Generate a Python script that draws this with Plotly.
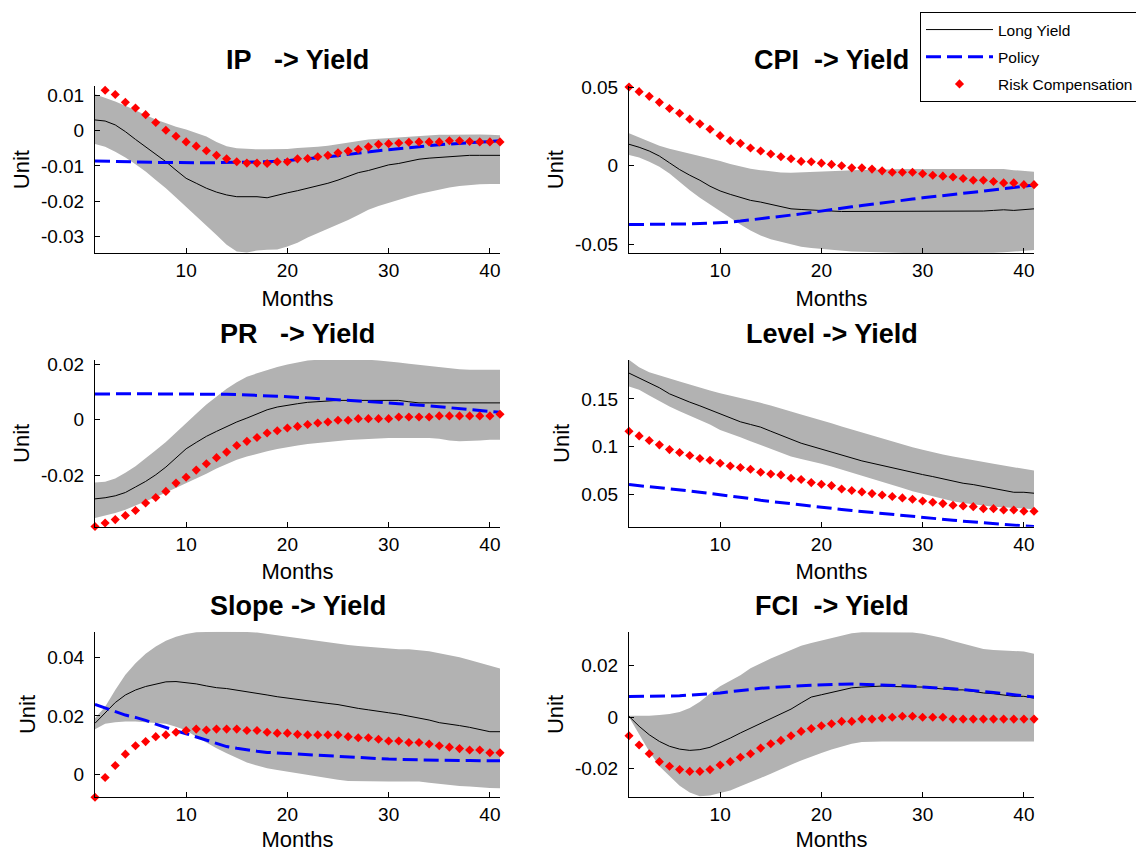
import plotly.graph_objects as go

months = list(range(1, 42))
x_tick_vals = [10, 20, 30, 40]
series_names = ["Long Yield", "Policy", "Risk Compensation"]
titles = ["IP\u00a0\u00a0\u00a0-> Yield", "CPI\u00a0\u00a0-> Yield", "PR\u00a0\u00a0\u00a0-> Yield",
          "Level -> Yield", "Slope -> Yield", "FCI\u00a0\u00a0-> Yield"]

# ---------------- IP -> Yield ----------------
ip_upper = [0.0103, 0.0093, 0.0082, 0.0070, 0.0058, 0.0044, 0.0031, 0.0020, 0.0011, 0.0003,
            -0.0006, -0.0017, -0.0032, -0.0044, -0.0050, -0.0052, -0.0053, -0.0053, -0.0053, -0.0052,
            -0.0049, -0.0048, -0.0046, -0.0043, -0.0038, -0.0034, -0.0029, -0.0025, -0.0023, -0.0021,
            -0.0019, -0.0016, -0.0014, -0.0013, -0.0012, -0.0012, -0.0011, -0.0011, -0.0011, -0.0012, -0.0013]
ip_lower = [-0.0038, -0.0046, -0.0060, -0.0076, -0.0095, -0.0116, -0.0140, -0.0163, -0.0189, -0.0215,
            -0.0241, -0.0267, -0.0295, -0.0323, -0.0342, -0.0345, -0.0339, -0.0337, -0.0336, -0.0328,
            -0.0317, -0.0302, -0.0290, -0.0278, -0.0265, -0.0253, -0.0239, -0.0224, -0.0213, -0.0204,
            -0.0194, -0.0187, -0.0179, -0.0173, -0.0166, -0.0161, -0.0157, -0.0154, -0.0152, -0.0151, -0.0151]
ip_long = [0.0030, 0.0027, 0.0016, -0.0003, -0.0025, -0.0046, -0.0066, -0.0088, -0.0112, -0.0135,
           -0.0149, -0.0163, -0.0174, -0.0182, -0.0187, -0.0187, -0.0187, -0.0190, -0.0182, -0.0176,
           -0.0170, -0.0163, -0.0157, -0.0149, -0.0140, -0.0130, -0.0119, -0.0113, -0.0105, -0.0097,
           -0.0093, -0.0087, -0.0081, -0.0078, -0.0076, -0.0072, -0.0070, -0.0070, -0.0070, -0.0070, -0.0070]
ip_policy = [-0.0086, -0.0087, -0.0088, -0.0089, -0.0089, -0.0090, -0.0090, -0.0090, -0.0091, -0.0091,
             -0.0091, -0.0091, -0.0091, -0.0091, -0.0091, -0.0090, -0.0089, -0.0088, -0.0087, -0.0085,
             -0.0082, -0.0080, -0.0077, -0.0074, -0.0071, -0.0067, -0.0064, -0.0060, -0.0057, -0.0054,
             -0.0051, -0.0048, -0.0045, -0.0043, -0.0040, -0.0038, -0.0036, -0.0034, -0.0032, -0.0030, -0.0029]
ip_risk = [None, 0.0114, 0.0102, 0.0080, 0.0064, 0.0045, 0.0023, 0.0001, -0.0016, -0.0032,
           -0.0044, -0.0057, -0.0070, -0.0080, -0.0088, -0.0092, -0.0092, -0.0093, -0.0088, -0.0088,
           -0.0080, -0.0079, -0.0074, -0.0070, -0.0063, -0.0058, -0.0053, -0.0046, -0.0039, -0.0037,
           -0.0035, -0.0033, -0.0032, -0.0032, -0.0032, -0.0029, -0.0029, -0.0031, -0.0032, -0.0032, -0.0032]
ip_yticks = [-0.03, -0.02, -0.01, 0, 0.01]
ip_yticktext = ["-0.03", "-0.02", "-0.01", "0", "0.01"]

# ---------------- CPI -> Yield ----------------
cpi_upper = [0.0207, 0.0182, 0.0154, 0.0128, 0.0109, 0.0094, 0.0079, 0.0064, 0.0047, 0.0030,
             0.0011, -0.0006, -0.0019, -0.0028, -0.0036, -0.0043, -0.0045, -0.0043, -0.0041, -0.0036,
             -0.0034, -0.0032, -0.0028, -0.0026, -0.0024, -0.0021, -0.0021, -0.0021, -0.0021, -0.0021,
             -0.0021, -0.0021, -0.0021, -0.0021, -0.0021, -0.0021, -0.0021, -0.0021, -0.0028, -0.0034, -0.0038]
cpi_lower = [0.0068, 0.0053, 0.0026, -0.0006, -0.0049, -0.0103, -0.0156, -0.0203, -0.0246, -0.0288,
             -0.0331, -0.0374, -0.0412, -0.0444, -0.0468, -0.0485, -0.0502, -0.0515, -0.0524, -0.0530,
             -0.0536, -0.0541, -0.0545, -0.0547, -0.0549, -0.0551, -0.0556, -0.0556, -0.0556, -0.0556,
             -0.0556, -0.0556, -0.0556, -0.0556, -0.0556, -0.0556, -0.0553, -0.0551, -0.0545, -0.0541, -0.0536]
cpi_long = [0.0137, 0.0118, 0.0094, 0.0062, 0.0019, -0.0024, -0.0060, -0.0092, -0.0130, -0.0160,
            -0.0182, -0.0203, -0.0220, -0.0231, -0.0246, -0.0263, -0.0274, -0.0278, -0.0280, -0.0284,
            -0.0288, -0.0291, -0.0291, -0.0291, -0.0291, -0.0291, -0.0291, -0.0291, -0.0291, -0.0291,
            -0.0291, -0.0291, -0.0291, -0.0291, -0.0291, -0.0288, -0.0284, -0.0280, -0.0284, -0.0280, -0.0274]
cpi_policy = [-0.0374, -0.0374, -0.0374, -0.0374, -0.0373, -0.0372, -0.0370, -0.0368, -0.0366, -0.0363,
              -0.0358, -0.0352, -0.0345, -0.0338, -0.0330, -0.0322, -0.0314, -0.0306, -0.0297, -0.0287,
              -0.0278, -0.0270, -0.0261, -0.0253, -0.0244, -0.0236, -0.0228, -0.0220, -0.0212, -0.0204,
              -0.0196, -0.0189, -0.0182, -0.0175, -0.0168, -0.0161, -0.0154, -0.0146, -0.0138, -0.0130, -0.0122]
cpi_risk = [0.0502, 0.0472, 0.0442, 0.0404, 0.0365, 0.0335, 0.0297, 0.0267, 0.0233, 0.0192,
            0.0160, 0.0143, 0.0113, 0.0094, 0.0075, 0.0058, 0.0045, 0.0028, 0.0026, 0.0017,
            0.0009, 0.0000, -0.0013, -0.0013, -0.0021, -0.0032, -0.0041, -0.0041, -0.0041, -0.0051,
            -0.0060, -0.0066, -0.0071, -0.0081, -0.0092, -0.0092, -0.0100, -0.0109, -0.0109, -0.0120, -0.0120]
cpi_yticks = [-0.05, 0, 0.05]
cpi_yticktext = ["-0.05", "0", "0.05"]

# ---------------- PR -> Yield ----------------
pr_upper = [-0.0227, -0.0224, -0.0212, -0.0192, -0.0168, -0.0140, -0.0110, -0.0080, -0.0045, -0.0012,
            0.0022, 0.0055, 0.0085, 0.0112, 0.0136, 0.0155, 0.0168, 0.0180, 0.0191, 0.0200,
            0.0208, 0.0214, 0.0217, 0.0217, 0.0217, 0.0217, 0.0217, 0.0217, 0.0214, 0.0211,
            0.0207, 0.0202, 0.0198, 0.0193, 0.0189, 0.0186, 0.0183, 0.0181, 0.0181, 0.0181, 0.0181]
pr_lower = [-0.0355, -0.0347, -0.0337, -0.0325, -0.0311, -0.0295, -0.0280, -0.0263, -0.0247, -0.0231,
            -0.0214, -0.0195, -0.0176, -0.0159, -0.0145, -0.0133, -0.0123, -0.0114, -0.0106, -0.0099,
            -0.0093, -0.0088, -0.0084, -0.0081, -0.0077, -0.0073, -0.0071, -0.0069, -0.0066, -0.0066,
            -0.0066, -0.0066, -0.0066, -0.0066, -0.0069, -0.0075, -0.0078, -0.0077, -0.0075, -0.0072, -0.0072]
pr_long = [-0.0286, -0.0282, -0.0275, -0.0263, -0.0243, -0.0223, -0.0199, -0.0171, -0.0138, -0.0105,
           -0.0082, -0.0060, -0.0042, -0.0024, -0.0008, 0.0006, 0.0022, 0.0036, 0.0046, 0.0053,
           0.0058, 0.0063, 0.0066, 0.0069, 0.0070, 0.0070, 0.0070, 0.0070, 0.0070, 0.0070,
           0.0070, 0.0065, 0.0061, 0.0061, 0.0061, 0.0061, 0.0061, 0.0061, 0.0061, 0.0061, 0.0061]
pr_policy = [0.0093, 0.0094, 0.0094, 0.0094, 0.0094, 0.0094, 0.0094, 0.0094, 0.0094, 0.0094,
             0.0094, 0.0094, 0.0093, 0.0092, 0.0091, 0.0090, 0.0089, 0.0087, 0.0085, 0.0083,
             0.0081, 0.0079, 0.0077, 0.0075, 0.0073, 0.0070, 0.0068, 0.0066, 0.0063, 0.0061,
             0.0058, 0.0056, 0.0053, 0.0050, 0.0047, 0.0044, 0.0041, 0.0037, 0.0034, 0.0030, 0.0027]
pr_risk = [-0.0386, -0.0373, -0.0361, -0.0346, -0.0328, -0.0301, -0.0281, -0.0259, -0.0229, -0.0208,
           -0.0182, -0.0159, -0.0137, -0.0117, -0.0093, -0.0078, -0.0064, -0.0048, -0.0040, -0.0030,
           -0.0024, -0.0017, -0.0012, -0.0008, -0.0002, -0.0002, 0.0004, 0.0004, 0.0004, 0.0004,
           0.0010, 0.0010, 0.0010, 0.0010, 0.0014, 0.0014, 0.0014, 0.0014, 0.0014, 0.0014, 0.0020]
pr_yticks = [-0.02, 0, 0.02]
pr_yticktext = ["-0.02", "0", "0.02"]

# ---------------- Level -> Yield ----------------
lvl_upper = [0.1912, 0.1835, 0.1782, 0.1747, 0.1712, 0.1684, 0.1653, 0.1618, 0.1589, 0.1561,
             0.1537, 0.1512, 0.1491, 0.1460, 0.1432, 0.1396, 0.1368, 0.1337, 0.1309, 0.1281,
             0.1246, 0.1211, 0.1179, 0.1147, 0.1116, 0.1084, 0.1053, 0.1021, 0.0993, 0.0965,
             0.0937, 0.0916, 0.0895, 0.0874, 0.0853, 0.0835, 0.0818, 0.0800, 0.0782, 0.0765, 0.0747]
lvl_lower = [0.1632, 0.1596, 0.1537, 0.1477, 0.1421, 0.1372, 0.1326, 0.1281, 0.1232, 0.1175,
             0.1140, 0.1098, 0.1056, 0.1014, 0.0972, 0.0930, 0.0895, 0.0870, 0.0846, 0.0818,
             0.0789, 0.0758, 0.0726, 0.0695, 0.0663, 0.0632, 0.0596, 0.0565, 0.0530, 0.0502,
             0.0474, 0.0449, 0.0425, 0.0407, 0.0393, 0.0379, 0.0368, 0.0361, 0.0354, 0.0347, 0.0340]
lvl_long = [0.1772, 0.1723, 0.1667, 0.1618, 0.1554, 0.1509, 0.1467, 0.1428, 0.1386, 0.1344,
            0.1302, 0.1260, 0.1232, 0.1204, 0.1161, 0.1116, 0.1077, 0.1035, 0.1004, 0.0975,
            0.0940, 0.0905, 0.0874, 0.0849, 0.0825, 0.0800, 0.0772, 0.0747, 0.0726, 0.0705,
            0.0684, 0.0660, 0.0635, 0.0614, 0.0600, 0.0579, 0.0554, 0.0537, 0.0519, 0.0519, 0.0509]
lvl_policy = [0.0600, 0.0590, 0.0580, 0.0568, 0.0556, 0.0545, 0.0533, 0.0520, 0.0508, 0.0495,
              0.0483, 0.0470, 0.0452, 0.0435, 0.0422, 0.0408, 0.0396, 0.0385, 0.0372, 0.0360,
              0.0349, 0.0338, 0.0327, 0.0316, 0.0306, 0.0296, 0.0285, 0.0275, 0.0265, 0.0255,
              0.0245, 0.0235, 0.0225, 0.0215, 0.0206, 0.0197, 0.0188, 0.0180, 0.0172, 0.0165, 0.0158]
lvl_risk = [0.1161, 0.1112, 0.1063, 0.1018, 0.0968, 0.0937, 0.0905, 0.0874, 0.0856, 0.0825,
            0.0796, 0.0779, 0.0761, 0.0730, 0.0712, 0.0702, 0.0667, 0.0653, 0.0621, 0.0604,
            0.0589, 0.0554, 0.0537, 0.0523, 0.0505, 0.0491, 0.0474, 0.0460, 0.0446, 0.0428,
            0.0414, 0.0400, 0.0382, 0.0375, 0.0368, 0.0347, 0.0347, 0.0333, 0.0333, 0.0319, 0.0319]
lvl_yticks = [0.05, 0.1, 0.15]
lvl_yticktext = ["0.05", "0.1", "0.15"]

# ---------------- Slope -> Yield ----------------
slp_upper = [0.0192, 0.0232, 0.0289, 0.0341, 0.0381, 0.0413, 0.0438, 0.0458, 0.0472, 0.0481,
             0.0487, 0.0489, 0.0489, 0.0489, 0.0489, 0.0488, 0.0486, 0.0481, 0.0478, 0.0472,
             0.0466, 0.0461, 0.0456, 0.0451, 0.0447, 0.0443, 0.0440, 0.0437, 0.0433, 0.0430,
             0.0429, 0.0429, 0.0426, 0.0422, 0.0415, 0.0409, 0.0401, 0.0392, 0.0383, 0.0372, 0.0363]
slp_lower = [0.0154, 0.0173, 0.0178, 0.0181, 0.0181, 0.0179, 0.0177, 0.0173, 0.0163, 0.0150,
             0.0129, 0.0109, 0.0089, 0.0072, 0.0055, 0.0040, 0.0030, 0.0021, 0.0015, 0.0009,
             0.0003, -0.0002, -0.0008, -0.0014, -0.0019, -0.0023, -0.0024, -0.0025, -0.0025, -0.0025,
             -0.0025, -0.0025, -0.0025, -0.0029, -0.0033, -0.0038, -0.0040, -0.0042, -0.0045, -0.0047, -0.0048]
slp_long = [0.0175, 0.0211, 0.0246, 0.0272, 0.0289, 0.0301, 0.0310, 0.0317, 0.0318, 0.0315,
            0.0310, 0.0303, 0.0297, 0.0294, 0.0289, 0.0283, 0.0278, 0.0272, 0.0266, 0.0261,
            0.0257, 0.0253, 0.0248, 0.0243, 0.0239, 0.0232, 0.0226, 0.0221, 0.0215, 0.0211,
            0.0206, 0.0200, 0.0194, 0.0186, 0.0177, 0.0173, 0.0167, 0.0161, 0.0154, 0.0146, 0.0146]
slp_policy = [0.0240, 0.0228, 0.0215, 0.0203, 0.0195, 0.0185, 0.0172, 0.0160, 0.0149, 0.0139,
              0.0128, 0.0115, 0.0104, 0.0095, 0.0089, 0.0083, 0.0079, 0.0075, 0.0073, 0.0071,
              0.0068, 0.0066, 0.0064, 0.0062, 0.0060, 0.0058, 0.0056, 0.0054, 0.0053, 0.0052,
              0.0051, 0.0050, 0.0049, 0.0049, 0.0048, 0.0048, 0.0047, 0.0047, 0.0047, 0.0046, 0.0046]
slp_risk = [-0.0079, -0.0011, 0.0030, 0.0069, 0.0098, 0.0112, 0.0129, 0.0135, 0.0144, 0.0150,
            0.0155, 0.0152, 0.0155, 0.0155, 0.0155, 0.0150, 0.0150, 0.0144, 0.0141, 0.0141,
            0.0137, 0.0135, 0.0135, 0.0135, 0.0135, 0.0129, 0.0125, 0.0125, 0.0120, 0.0114,
            0.0114, 0.0109, 0.0109, 0.0104, 0.0098, 0.0093, 0.0088, 0.0083, 0.0083, 0.0074, 0.0074]
slp_yticks = [0, 0.02, 0.04]
slp_yticktext = ["0", "0.02", "0.04"]

# ---------------- FCI -> Yield ----------------
fci_upper = [0.0005, 0.0005, 0.0005, 0.0008, 0.0012, 0.0020, 0.0035, 0.0060, 0.0092, 0.0120,
             0.0143, 0.0163, 0.0190, 0.0210, 0.0228, 0.0245, 0.0262, 0.0278, 0.0289, 0.0298,
             0.0308, 0.0319, 0.0327, 0.0331, 0.0331, 0.0331, 0.0331, 0.0331, 0.0330, 0.0325,
             0.0317, 0.0308, 0.0297, 0.0286, 0.0275, 0.0266, 0.0262, 0.0260, 0.0258, 0.0256, 0.0247]
fci_lower = [0.0000, -0.0065, -0.0134, -0.0192, -0.0231, -0.0268, -0.0294, -0.0309, -0.0306, -0.0296,
             -0.0286, -0.0270, -0.0255, -0.0238, -0.0221, -0.0205, -0.0186, -0.0169, -0.0153, -0.0140,
             -0.0127, -0.0114, -0.0104, -0.0097, -0.0095, -0.0095, -0.0095, -0.0095, -0.0095, -0.0095,
             -0.0095, -0.0095, -0.0095, -0.0095, -0.0095, -0.0095, -0.0095, -0.0095, -0.0095, -0.0095, -0.0095]
fci_long = [0.0003, -0.0036, -0.0069, -0.0095, -0.0114, -0.0125, -0.0130, -0.0127, -0.0118, -0.0101,
            -0.0082, -0.0062, -0.0043, -0.0023, -0.0004, 0.0013, 0.0031, 0.0055, 0.0078, 0.0087,
            0.0096, 0.0106, 0.0114, 0.0117, 0.0119, 0.0121, 0.0119, 0.0118, 0.0117, 0.0117,
            0.0113, 0.0109, 0.0106, 0.0106, 0.0100, 0.0094, 0.0091, 0.0087, 0.0081, 0.0081, 0.0074]
fci_policy = [0.0080, 0.0080, 0.0081, 0.0081, 0.0082, 0.0083, 0.0085, 0.0087, 0.0090, 0.0094,
              0.0099, 0.0104, 0.0108, 0.0112, 0.0115, 0.0118, 0.0120, 0.0122, 0.0124, 0.0126,
              0.0127, 0.0128, 0.0129, 0.0128, 0.0127, 0.0126, 0.0124, 0.0122, 0.0120, 0.0118,
              0.0116, 0.0113, 0.0110, 0.0107, 0.0104, 0.0100, 0.0096, 0.0092, 0.0088, 0.0083, 0.0078]
fci_risk = [-0.0073, -0.0109, -0.0143, -0.0174, -0.0192, -0.0205, -0.0212, -0.0212, -0.0205, -0.0187,
            -0.0174, -0.0157, -0.0143, -0.0121, -0.0104, -0.0091, -0.0073, -0.0056, -0.0045, -0.0034,
            -0.0026, -0.0017, -0.0017, -0.0008, -0.0008, -0.0004, -0.0001, 0.0003, 0.0003, -0.0001,
            -0.0001, -0.0001, -0.0008, -0.0008, -0.0008, -0.0008, -0.0008, -0.0008, -0.0008, -0.0008, -0.0008]
fci_yticks = [-0.02, 0, 0.02]
fci_yticktext = ["-0.02", "0", "0.02"]

# ---------------- layout constants (pixels) ----------------
W, H = 1136, 852
col_px = [(95, 500), (629, 1034)]
row_px = [(86, 253.3), (360, 526.8), (631.7, 797.3)]
y_ranges = [[-0.0347, 0.0126], [-0.0557, 0.0508], [-0.0387, 0.0216],
            [0.0156, 0.191], [-0.0079, 0.0489], [-0.0313, 0.0333]]

panels = [
    (ip_upper, ip_lower, ip_long, ip_policy, ip_risk, ip_yticks, ip_yticktext),
    (cpi_upper, cpi_lower, cpi_long, cpi_policy, cpi_risk, cpi_yticks, cpi_yticktext),
    (pr_upper, pr_lower, pr_long, pr_policy, pr_risk, pr_yticks, pr_yticktext),
    (lvl_upper, lvl_lower, lvl_long, lvl_policy, lvl_risk, lvl_yticks, lvl_yticktext),
    (slp_upper, slp_lower, slp_long, slp_policy, slp_risk, slp_yticks, slp_yticktext),
    (fci_upper, fci_lower, fci_long, fci_policy, fci_risk, fci_yticks, fci_yticktext),
]

FONT = "Liberation Sans, Arial, Helvetica, sans-serif"
GRAY = "#b2b2b2"

fig = go.Figure()
annotations = []
layout_axes = {}

for i, (up, lo, lg, pol, rk, yt, ytt) in enumerate(panels):
    r, c = divmod(i, 2)
    n = "" if i == 0 else str(i + 1)
    xa, ya = "x" + n, "y" + n
    x0, x1 = col_px[c]
    top, bot = row_px[r]
    xdom = [x0 / W, x1 / W]
    ydom = [1 - bot / H, 1 - top / H]
    first = (i == 0)

    fig.add_trace(go.Scatter(x=months, y=lo, mode="lines", line=dict(width=0, color=GRAY),
                             showlegend=False, hoverinfo="skip", legendgroup="z", xaxis=xa, yaxis=ya))
    fig.add_trace(go.Scatter(x=months, y=up, mode="lines", line=dict(width=0, color=GRAY),
                             fill="tonexty", fillcolor=GRAY, showlegend=False, hoverinfo="skip",
                             legendgroup="z", xaxis=xa, yaxis=ya))
    fig.add_trace(go.Scatter(x=months, y=lg, mode="lines", name=series_names[0],
                             line=dict(color="black", width=1), showlegend=first,
                             legendgroup="a", xaxis=xa, yaxis=ya))
    fig.add_trace(go.Scatter(x=months, y=pol, mode="lines", name=series_names[1],
                             line=dict(color="#0000ff", width=3, dash="15px,6px"), showlegend=first,
                             legendgroup="b", xaxis=xa, yaxis=ya))
    fig.add_trace(go.Scatter(x=months, y=rk, mode="markers", name=series_names[2],
                             marker=dict(symbol="diamond", size=7, color="#ff0000", line=dict(width=0)),
                             cliponaxis=False, showlegend=first, legendgroup="c",
                             xaxis=xa, yaxis=ya))

    layout_axes["xaxis" + n] = dict(
        domain=xdom, anchor=ya, range=[1, 41], tickvals=x_tick_vals,
        ticks="inside", ticklen=5, tickwidth=1, tickcolor="black",
        showline=True, linecolor="black", linewidth=1, mirror=False,
        showgrid=False, zeroline=False, automargin=False,
        tickfont=dict(family=FONT, size=19, color="black"), ticklabelstandoff=0,
        title=dict(text="Months", font=dict(family=FONT, size=22, color="black"), standoff=10),
    )
    layout_axes["yaxis" + n] = dict(
        domain=ydom, anchor=xa, range=y_ranges[i], tickvals=yt, ticktext=ytt,
        ticks="inside", ticklen=5, tickwidth=1, tickcolor="black",
        showline=True, linecolor="black", linewidth=1, mirror=False,
        showgrid=False, zeroline=False, automargin=False,
        tickfont=dict(family=FONT, size=19, color="black"), ticklabelstandoff=6,
        title=dict(text="Unit", font=dict(family=FONT, size=22, color="black"), standoff=5),
    )
    annotations.append(dict(
        text=titles[i], xref="paper", yref="paper",
        x=(x0 + x1) / 2 / W, y=1 - (top - 26) / H, xanchor="center", yanchor="middle",
        showarrow=False, font=dict(family=FONT, size=27, color="black", weight="bold"),
    ))

fig.update_layout(
    width=W, height=H, template="none",
    margin=dict(l=0, r=0, t=0, b=0, autoexpand=False),
    paper_bgcolor="white", plot_bgcolor="white",
    font=dict(family=FONT, color="black"),
    annotations=annotations,
    showlegend=True,
    legend=dict(x=920 / W, y=1 - 12 / H, xanchor="left", yanchor="top",
                bgcolor="white", bordercolor="black", borderwidth=1,
                font=dict(family=FONT, size=15.5, color="black"),
                itemwidth=67, tracegroupgap=4, traceorder="grouped"),
    **layout_axes,
)

fig.write_html("out.html")
